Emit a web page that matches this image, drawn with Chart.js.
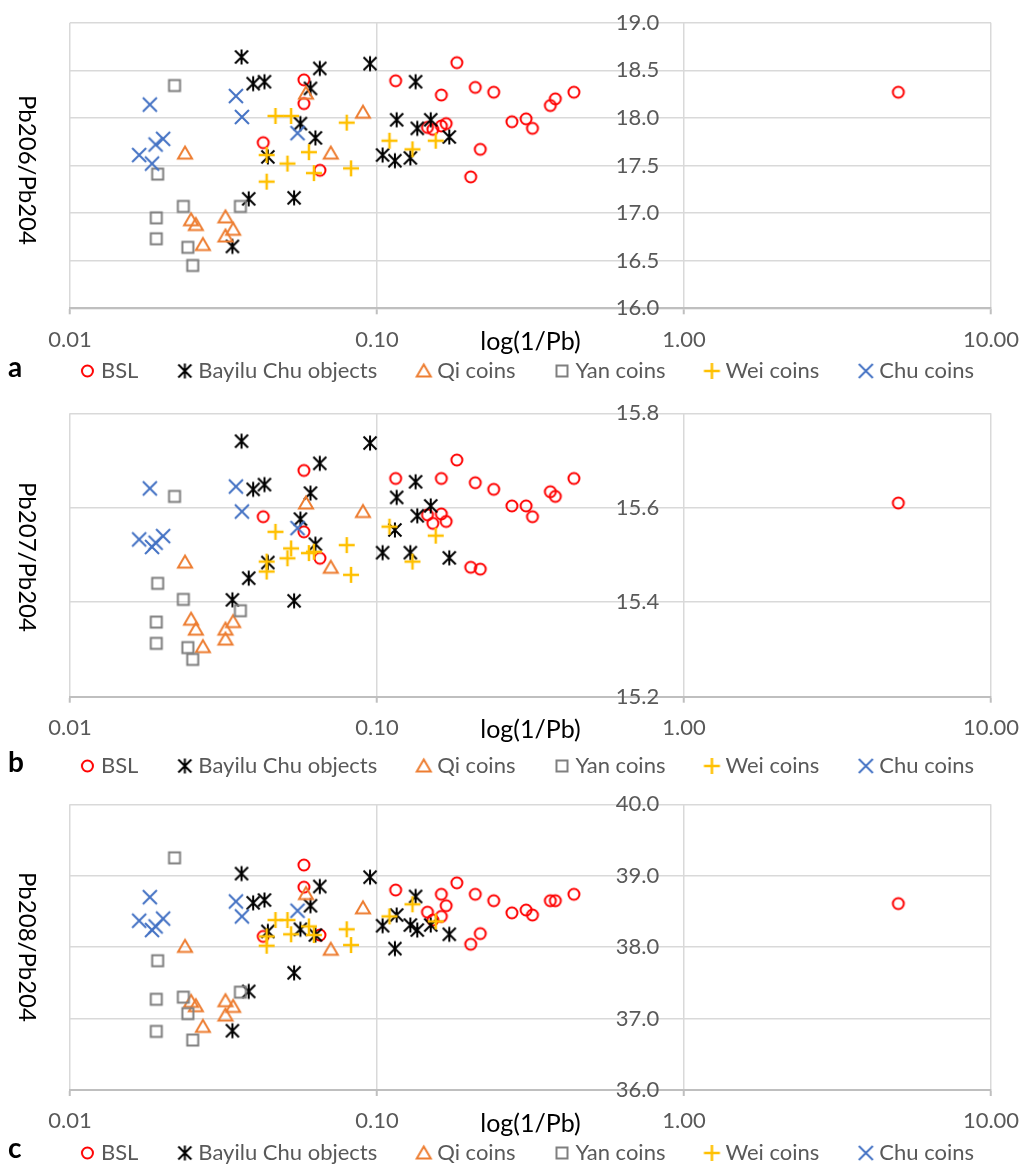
<!DOCTYPE html>
<html>
<head>
<meta charset="utf-8">
<script src="https://cdn.jsdelivr.net/npm/chart.js@4.4.1/dist/chart.umd.min.js"></script>
<style>
html, body { margin: 0; padding: 0; background: #ffffff; }
#wrap { position: relative; width: 1020px; height: 1164px; overflow: hidden; font-family: Lato, "Open Sans", sans-serif; }
.panel { position: absolute; left: 0; width: 1020px; }
.ytitle { position: absolute; writing-mode: vertical-rl; font-size: 24px; line-height: 24px; color: #000; transform: translate(-50%, -50%); white-space: nowrap; }
.letter { position: absolute; font-weight: bold; font-size: 28px; line-height: 28px; color: #000; }
</style>
</head>
<body>
<div id="wrap"></div>
<script>
// ---------------- data ----------------
const xTickValues = [0.01, 0.1, 1, 10];
const pb206Ticks = [16.0, 16.5, 17.0, 17.5, 18.0, 18.5, 19.0];
const pb207Ticks = [15.2, 15.4, 15.6, 15.8];
const pb208Ticks = [36.0, 37.0, 38.0, 39.0, 40.0];
const seriesNames = ['BSL', 'Bayilu Chu objects', 'Qi coins', 'Yan coins', 'Wei coins', 'Chu coins'];

// BSL
const bslX   = [0.0426, 0.0578, 0.0578, 0.0652, 0.115, 0.146, 0.152, 0.162, 0.162, 0.168, 0.182, 0.202, 0.209, 0.217, 0.240, 0.275, 0.306, 0.321, 0.367, 0.381, 0.438, 4.99];
const bsl206 = [17.74, 18.40, 18.15, 17.45, 18.39, 17.90, 17.88, 18.24, 17.915, 17.94, 18.58, 17.38, 18.32, 17.67, 18.27, 17.96, 17.99, 17.89, 18.13, 18.20, 18.27, 18.27];
const bsl207 = [15.581, 15.679, 15.549, 15.493, 15.662, 15.585, 15.567, 15.662, 15.587, 15.571, 15.701, 15.474, 15.653, 15.470, 15.639, 15.604, 15.604, 15.581, 15.634, 15.624, 15.662, 15.610];
const bsl208 = [38.15, 39.15, 38.84, 38.17, 38.80, 38.49, 38.38, 38.74, 38.43, 38.58, 38.90, 38.04, 38.74, 38.19, 38.65, 38.48, 38.52, 38.45, 38.65, 38.65, 38.74, 38.61];

// Bayilu Chu objects
const bayiluX   = [0.0338, 0.0362, 0.0382, 0.0395, 0.0430, 0.0441, 0.0537, 0.0563, 0.0607, 0.0630, 0.0651, 0.0949, 0.1043, 0.1144, 0.1159, 0.1284, 0.1336, 0.1353, 0.1496, 0.172];
const bayilu206 = [16.65, 18.64, 17.15, 18.36, 18.38, 17.59, 17.16, 17.94, 18.31, 17.79, 18.52, 18.57, 17.61, 17.55, 17.98, 17.58, 18.38, 17.89, 17.98, 17.80];
const bayilu207 = [15.405, 15.741, 15.451, 15.639, 15.649, 15.484, 15.403, 15.576, 15.631, 15.523, 15.694, 15.737, 15.505, 15.553, 15.622, 15.505, 15.655, 15.583, 15.604, 15.494];
const bayilu208 = [36.83, 39.03, 37.38, 38.62, 38.66, 38.22, 37.64, 38.25, 38.58, 38.17, 38.85, 38.98, 38.30, 37.98, 38.45, 38.31, 38.71, 38.24, 38.31, 38.18];

// Qi coins
const qiX   = [0.0237, 0.0248, 0.0257, 0.0271, 0.0321, 0.0321, 0.0340, 0.0587, 0.0707, 0.0900];
const qi206 = [17.63, 16.93, 16.88, 16.67, 16.96, 16.76, 16.83, 18.26, 17.63, 18.06];
const qi207 = [15.485, 15.364, 15.343, 15.306, 15.343, 15.322, 15.359, 15.610, 15.474, 15.592];
const qi208 = [38.01, 37.24, 37.18, 36.89, 37.25, 37.05, 37.17, 38.75, 37.97, 38.55];

// Yan coins
const yanX   = [0.0191, 0.0191, 0.0193, 0.0219, 0.0234, 0.0242, 0.0251, 0.0359];
const yan206 = [16.95, 16.73, 17.41, 18.34, 17.07, 16.64, 16.45, 17.07];
const yan207 = [15.358, 15.313, 15.440, 15.624, 15.406, 15.304, 15.279, 15.382];
const yan208 = [37.27, 36.82, 37.81, 39.25, 37.30, 37.07, 36.70, 37.37];

// Wei coins
const weiX   = [0.0437, 0.0437, 0.0467, 0.0511, 0.0525, 0.0600, 0.0623, 0.0797, 0.0823, 0.1098, 0.1305, 0.1553];
const wei206 = [17.61, 17.33, 18.02, 17.52, 18.02, 17.64, 17.42, 17.95, 17.47, 17.76, 17.67, 17.76];
const wei207 = [15.486, 15.465, 15.549, 15.493, 15.514, 15.504, 15.507, 15.521, 15.458, 15.560, 15.486, 15.541];
const wei208 = [38.15, 38.02, 38.38, 38.38, 38.18, 38.29, 38.17, 38.25, 38.03, 38.43, 38.60, 38.36];

// Chu coins
const chuX   = [0.0168, 0.0182, 0.0185, 0.0190, 0.0201, 0.0347, 0.0363, 0.0551];
const chu206 = [17.61, 18.14, 17.52, 17.72, 17.78, 18.23, 18.01, 17.84];
const chu207 = [15.533, 15.641, 15.517, 15.526, 15.540, 15.645, 15.592, 15.557];
const chu208 = [38.37, 38.70, 38.24, 38.29, 38.40, 38.64, 38.43, 38.51];

// ---------------- styling ----------------
const FONT = 'Lato, "Open Sans", sans-serif';
const seriesX = [bslX, bayiluX, qiX, yanX, weiX, chuX];
const markerColors = ['#FF0000', '#000000', '#ED7D31', '#7F7F7F', '#FFC000', '#4472C4'];
const markerKinds = ['circle', 'star', 'triangle', 'square', 'plus', 'cross'];

const LEG_FS = 22;      // legend font size
const LEG_PAD = 5;      // legend padding
const LEG_BOXW = 44;    // legend box width (marker slot)

function drawMarker(g, kind, color, cx, cy) {
  g.save();
  g.strokeStyle = color;
  g.lineWidth = 2;
  g.translate(cx, cy);
  g.beginPath();
  if (kind === 'circle') { g.arc(0, 0, 5.5, 0, Math.PI * 2); }
  else if (kind === 'star') {
    g.moveTo(0, -7.5); g.lineTo(0, 7.5);
    g.moveTo(-6.5, -6.5); g.lineTo(6.5, 6.5);
    g.moveTo(6.5, -6.5); g.lineTo(-6.5, 6.5);
  }
  else if (kind === 'triangle') { g.moveTo(0, -6.5); g.lineTo(7, 5.5); g.lineTo(-7, 5.5); g.closePath(); }
  else if (kind === 'square') { g.rect(-5.5, -5.5, 11, 11); }
  else if (kind === 'plus') { g.lineWidth = 2.5; g.moveTo(-8, 0); g.lineTo(8, 0); g.moveTo(0, -8); g.lineTo(0, 8); }
  else if (kind === 'cross') { g.moveTo(-7, -7); g.lineTo(7, 7); g.moveTo(7, -7); g.lineTo(-7, 7); }
  g.stroke();
  g.restore();
}
function makeMarker(kind, color) {
  const c = document.createElement('canvas');
  c.width = 20; c.height = 20;
  drawMarker(c.getContext('2d'), kind, color, 10, 10);
  return c;
}
// legend marker: wide transparent image so the symbol sits just before its text
function makeLegendMarker(kind, color) {
  const c = document.createElement('canvas');
  c.width = LEG_BOXW * 2; c.height = 20;
  drawMarker(c.getContext('2d'), kind, color, 1.5 * LEG_BOXW - 2.5, 10);
  return c;
}
const markers = markerKinds.map((k, i) => makeMarker(k, markerColors[i]));
const legendMarkers = markerKinds.map((k, i) => makeLegendMarker(k, markerColors[i]));

const panels = [
  { letter: 'a', title: 'Pb206/Pb204', ticks: pb206Ticks, ys: [bsl206, bayilu206, qi206, yan206, wei206, chu206],
    canvasTop: 0, top: 22.7, bottom: 308.3, legendY: 371, titleY: 170, letterTop: 352 },
  { letter: 'b', title: 'Pb207/Pb204', ticks: pb207Ticks, ys: [bsl207, bayilu207, qi207, yan207, wei207, chu207],
    canvasTop: 390, top: 413.3, bottom: 696.7, legendY: 766, titleY: 557, letterTop: 747 },
  { letter: 'c', title: 'Pb208/Pb204', ticks: pb208Ticks, ys: [bsl208, bayilu208, qi208, yan208, wei208, chu208],
    canvasTop: 781, top: 804.3, bottom: 1090, legendY: 1153, titleY: 947, letterTop: 1133 }
];

const wrap = document.getElementById('wrap');

panels.forEach((p) => {
  const legendTop = p.legendY - p.canvasTop - LEG_PAD - LEG_FS / 2;
  const chartBottom = p.bottom - p.canvasTop;
  const axisH = legendTop - chartBottom;
  const legendH = LEG_FS + LEG_PAD + 10;
  const canvasH = Math.ceil(legendTop + legendH);
  const padBottom = canvasH - (legendTop + legendH);
  const titleCenter = chartBottom + 33.5;
  const titlePadB = (chartBottom + axisH) - titleCenter - 25 * 1.2 / 2;

  const div = document.createElement('div');
  div.className = 'panel';
  div.style.top = p.canvasTop + 'px';
  div.style.height = canvasH + 'px';
  const cv = document.createElement('canvas');
  cv.width = 1020; cv.height = canvasH;
  cv.style.width = '1020px'; cv.style.height = canvasH + 'px';
  div.appendChild(cv);
  wrap.appendChild(div);

  const yt = document.createElement('div');
  yt.className = 'ytitle';
  yt.style.left = '28px';
  yt.style.top = p.titleY + 'px';
  yt.textContent = p.title;
  wrap.appendChild(yt);

  const lt = document.createElement('div');
  lt.className = 'letter';
  lt.style.left = '8px';
  lt.style.top = p.letterTop + 'px';
  lt.textContent = p.letter;
  wrap.appendChild(lt);

  new Chart(cv, {
    type: 'scatter',
    data: {
      datasets: seriesNames.map((name, i) => ({
        label: name,
        data: seriesX[i].map((x, j) => ({ x: x, y: p.ys[i][j] })),
        pointStyle: markers[i],
        pointRadius: 8,
        pointHoverRadius: 8,
        backgroundColor: markerColors[i],
        borderColor: markerColors[i],
        order: 10 - i,
        xAxisID: 'x',
        yAxisID: 'y'
      }))
    },
    options: {
      responsive: false,
      animation: false,
      devicePixelRatio: 1,
      events: [],
      layout: { padding: { left: 0, right: 0, top: p.top - p.canvasTop, bottom: padBottom } },
      plugins: {
        legend: {
          position: 'bottom',
          labels: {
            usePointStyle: true,
            pointStyleWidth: LEG_BOXW,
            padding: LEG_PAD,
            color: '#595959',
            font: { family: FONT, size: LEG_FS },
            generateLabels: (chart) => {
              const items = Chart.defaults.plugins.legend.labels.generateLabels(chart);
              items.forEach(it => { it.pointStyle = legendMarkers[it.datasetIndex]; });
              return items;
            },
            sort: (a, b) => a.datasetIndex - b.datasetIndex
          }
        },
        tooltip: { enabled: false }
      },
      scales: {
        x: {
          type: 'logarithmic',
          position: 'bottom',
          min: 0.01,
          max: 10,
          afterBuildTicks: (s) => { s.ticks = xTickValues.map(v => ({ value: v })); },
          afterFit: (s) => { s.height = axisH; },
          grid: { color: '#d9d9d9', lineWidth: 1.5, tickLength: 6, tickColor: '#bfbfbf', tickWidth: 2 },
          border: { color: '#bfbfbf', width: 2 },
          ticks: {
            padding: 0, maxRotation: 0, autoSkip: false, color: '#595959',
            font: { family: FONT, size: 22, lineHeight: 2.3 },
            callback: (v) => Number(v).toFixed(2)
          },
          title: {
            display: true, text: 'log(1/Pb)', color: '#000000',
            font: { family: FONT, size: 25 },
            padding: { top: 0, bottom: titlePadB }
          }
        },
        y: {
          type: 'linear',
          position: { x: 0.83 },
          min: p.ticks[0],
          max: p.ticks[p.ticks.length - 1],
          afterBuildTicks: (s) => { s.ticks = p.ticks.map(v => ({ value: v })); },
          grid: { color: '#d9d9d9', lineWidth: 1.5, drawTicks: false },
          border: { display: false },
          ticks: {
            padding: 0, color: '#595959',
            font: { family: FONT, size: 22 },
            callback: (v) => Number(v).toFixed(1)
          }
        },
        yL: {
          axis: 'y', position: 'left', display: true,
          grid: { display: false }, border: { display: false }, ticks: { display: false },
          afterFit: (s) => { s.width = 70; }
        },
        yR: {
          axis: 'y', position: 'right', display: true,
          grid: { display: false }, border: { display: false }, ticks: { display: false },
          afterFit: (s) => { s.width = 29; }
        }
      }
    }
  });
});
</script>
</body>
</html>
